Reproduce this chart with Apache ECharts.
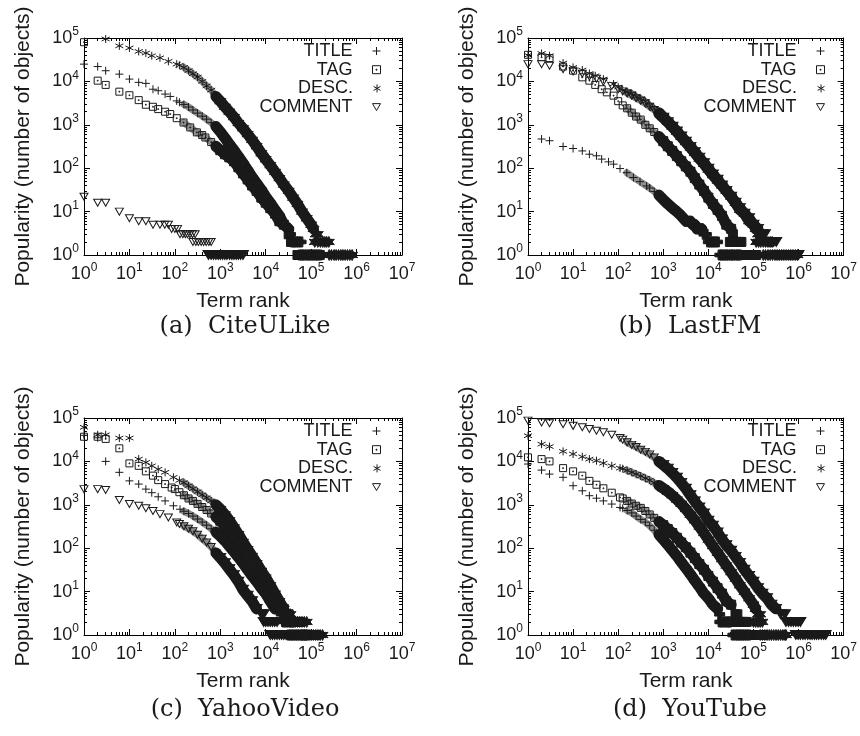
<!DOCTYPE html>
<html><head><meta charset="utf-8">
<script src="https://cdn.jsdelivr.net/npm/echarts@6/dist/echarts.min.js"></script>
<style>html,body{margin:0;padding:0;background:#fff}#c{width:860px;height:736px}</style>
</head><body><div id="c"></div>
<script>
// ---------- labels ----------
const seriesNames = ['TITLE', 'TAG', 'DESC.', 'COMMENT'];
const panelCaptions = ['(a)  CiteULike', '(b)  LastFM', '(c)  YahooVideo', '(d)  YouTube'];
const xTickExponents = ['0', '1', '2', '3', '4', '5', '6', '7'];
const yTickExponents = ['0', '1', '2', '3', '4', '5'];
const xAxisTitle = 'Term rank';
const yAxisTitle = 'Popularity (number of objects)';

// ---------- data: [term rank, popularity] ----------
// (a) CiteULike
const citeTitle = [[1,25000],[2,22000],[3,17600],[6,14700],[10,11300],[16,9500],[23,9000],[33,6600],[43,6100],[61,5100],[79,4500],[110,3560],[126,3300],[158,2950],[200,2570],[250,2190],[316,1860],[400,1580],[500,1350],[630,1120],[800,910],[1000,690],[1260,500],[1580,360],[2000,260],[2500,186],[3160,132],[4000,91],[5000,63],[6300,45],[8000,32],[10000,22],[12600,16],[16000,11],[20000,8],[25000,5],[32000,4],[35000,3],[38000,2],[42000,2],[47000,2],[53000,2],[60000,2],[56000,1],[63000,1],[70000,1],[80000,1],[90000,1],[100000,1],[112000,1],[126000,1],[140000,1],[160000,1]];
const citeTag = [[1,80000],[2,10400],[3,8300],[6,5800],[10,4800],[16,3700],[23,2900],[33,2600],[43,2300],[61,2000],[79,1770],[110,1420],[155,1130],[218,870],[305,670],[400,580],[470,510],[630,400],[800,320],[1000,260],[1260,210],[1580,178],[2000,145],[2500,105],[3160,76],[4000,55],[5000,40],[6300,30],[8000,21],[10000,16],[12600,12],[16000,9],[20000,6],[25000,5],[32000,3],[36000,2],[40000,2],[45000,2],[50000,1],[56000,1],[63000,1],[70000,1],[80000,1],[90000,1],[100000,1],[112000,1],[126000,1],[140000,1],[155000,1]];
const citeDesc = [[3,95000],[6,66000],[10,59000],[16,49000],[23,45000],[31,39000],[47,35000],[72,29000],[110,25000],[126,23500],[158,21000],[200,17800],[250,15000],[316,12600],[400,10000],[500,7900],[630,6300],[800,4500],[1000,3500],[1260,2600],[1580,2000],[2000,1500],[2500,1100],[3160,830],[4000,610],[5000,450],[6300,320],[8000,220],[10000,160],[12600,117],[16000,82],[20000,59],[25000,42],[32000,30],[40000,21],[50000,15],[63000,10],[80000,7],[100000,5],[113000,4],[126000,3],[140000,3],[120000,2],[140000,2],[160000,2],[180000,2],[200000,2],[220000,2],[245000,2],[250000,1],[280000,1],[320000,1],[355000,1],[400000,1],[450000,1],[500000,1],[560000,1],[630000,1],[710000,1],[800000,1]];
const citeComment = [[1,22],[2,16],[3,16],[6,10],[10,7],[16,6],[23,6],[33,5],[47,5],[60,5],[72,5],[85,4],[100,4],[115,4],[130,3],[150,3],[170,3],[190,3],[215,3],[245,3],[280,3],[250,2],[290,2],[330,2],[380,2],[430,2],[490,2],[560,2],[630,2],[550,1],[630,1],[710,1],[800,1],[900,1],[1000,1],[1120,1],[1260,1],[1400,1],[1600,1],[1800,1],[2000,1],[2240,1],[2500,1],[2800,1],[3160,1]];

// (b) LastFM
const lastTitle = [[2,470],[3,430],[6,316],[10,284],[16,250],[23,210],[33,193],[43,162],[61,140],[79,124],[110,98],[155,79],[218,61],[305,49],[427,39],[500,35],[630,29],[800,24],[1000,19],[1260,15],[1600,12],[2000,10],[2500,8],[3200,6],[4000,6],[4500,5],[5000,5],[5600,4],[6300,4],[7100,4],[8000,3],[9000,3],[10000,2],[11200,2],[12600,2],[14000,2],[16000,2],[18000,1],[20000,1],[22400,1],[25000,1],[28000,1],[32000,1],[35000,1],[40000,1],[45000,1],[50000,1]];
const lastTag = [[1,41000],[2,36000],[3,34500],[6,22000],[10,17700],[16,12400],[23,10400],[31,8300],[43,6600],[56,5600],[79,4700],[100,3500],[126,2800],[158,2400],[200,1900],[250,1550],[316,1320],[400,1000],[500,830],[630,680],[800,540],[1000,420],[1260,320],[1580,250],[2000,190],[2500,145],[3160,110],[4000,83],[5000,59],[6300,42],[8000,30],[10000,21],[12600,15],[16000,11],[20000,8],[25000,5],[32000,4],[35000,3],[30000,2],[34000,2],[38000,2],[43000,2],[48000,2],[54000,2],[35000,1],[40000,1],[45000,1],[50000,1],[56000,1],[63000,1],[71000,1],[80000,1],[90000,1],[100000,1],[115000,1]];
const lastDesc = [[1,40000],[2,44000],[3,39000],[6,26500],[10,21000],[16,18300],[23,15200],[31,13500],[47,11300],[79,8700],[100,7400],[126,6300],[158,5750],[200,5250],[250,4450],[316,4000],[400,3450],[500,2800],[630,2350],[800,1900],[1000,1500],[1260,1170],[1580,910],[2000,690],[2500,525],[3160,400],[4000,300],[5000,225],[6300,166],[8000,126],[10000,93],[12600,69],[16000,52],[20000,40],[25000,30],[32000,22],[40000,16],[50000,11],[63000,9],[80000,6],[100000,5],[112000,4],[126000,3],[141000,3],[115000,2],[130000,2],[145000,2],[165000,2],[185000,2],[210000,2],[235000,2],[260000,2],[165000,1],[185000,1],[210000,1],[235000,1],[265000,1],[300000,1],[335000,1],[375000,1],[420000,1],[470000,1],[530000,1],[600000,1],[670000,1],[750000,1],[850000,1],[950000,1]];
const lastComment = [[1,25000],[2,25000],[3,23000],[6,19000],[10,17000],[16,15000],[23,13000],[33,11500],[47,9800],[72,7900],[100,6600],[126,5900],[158,5300],[200,4700],[250,4100],[316,3600],[400,3100],[500,2600],[630,2200],[800,1800],[1000,1450],[1260,1150],[1600,900],[2000,700],[2500,540],[3160,410],[4000,310],[5000,235],[6300,175],[8000,130],[10000,97],[12600,72],[16000,54],[20000,40],[25000,30],[32000,22],[40000,16],[50000,12],[63000,9],[80000,7],[100000,5],[126000,4],[158000,3],[180000,3],[200000,2],[225000,2],[250000,2],[280000,2],[320000,2],[320000,1],[360000,1],[400000,1],[450000,1],[500000,1],[560000,1],[630000,1],[710000,1],[800000,1],[900000,1],[1000000,1]];

// (c) YahooVideo
const yahooTitle = [[1,40000],[2,35000],[3,10000],[6,5600],[10,3560],[16,3000],[23,2300],[31,1900],[43,1530],[61,1230],[93,950],[130,790],[158,710],[200,630],[250,550],[316,470],[400,400],[500,340],[630,280],[800,235],[1000,190],[1260,148],[1580,112],[2000,83],[2500,62],[3160,45],[4000,32],[5000,23],[6300,17],[8000,12],[10000,9],[12600,6],[16000,4],[20000,4],[22000,3],[25000,2],[28000,2],[32000,2],[36000,2],[40000,2],[32000,1],[36000,1],[40000,1],[45000,1],[50000,1],[56000,1],[63000,1],[71000,1],[80000,1]];
const yahooTag = [[1,37000],[2,37000],[3,33000],[6,20000],[10,9000],[16,7900],[23,5900],[33,4700],[43,3700],[61,3000],[85,2500],[100,2300],[126,1950],[158,1660],[200,1400],[250,1230],[316,1050],[400,890],[500,760],[630,630],[800,525],[1000,430],[1260,330],[1580,245],[2000,175],[2500,123],[3160,89],[4000,63],[5000,44],[6300,30],[8000,21],[10000,14],[12600,10],[16000,7],[20000,5],[25000,4],[32000,3],[28000,2],[32000,2],[36000,2],[40000,2],[45000,2],[50000,2],[56000,2],[40000,1],[45000,1],[50000,1],[56000,1],[63000,1],[71000,1],[80000,1],[90000,1],[100000,1],[112000,1],[126000,1]];
const yahooDesc = [[1,61000],[2,41000],[3,41000],[6,34500],[10,34500],[16,11300],[23,9500],[31,7900],[43,6600],[61,5600],[93,4300],[126,3650],[158,3250],[200,2750],[250,2350],[316,2000],[400,1700],[500,1450],[630,1230],[800,1000],[1000,800],[1260,600],[1580,440],[2000,300],[2500,210],[3160,140],[4000,95],[5000,66],[6300,45],[8000,30],[10000,21],[12600,14],[16000,9],[20000,6],[25000,4],[32000,3],[35000,3],[35000,2],[40000,2],[45000,2],[50000,2],[56000,2],[63000,2],[71000,2],[80000,2],[63000,1],[71000,1],[80000,1],[90000,1],[100000,1],[112000,1],[126000,1],[141000,1],[158000,1],[178000,1]];
const yahooComment = [[1,2300],[2,2300],[3,2200],[6,1290],[10,1040],[16,950],[23,830],[33,720],[47,610],[72,510],[110,390],[126,360],[158,320],[200,280],[250,245],[316,205],[400,165],[500,135],[630,107],[800,78],[1000,60],[1260,45],[1580,33],[2000,24],[2500,17],[3160,11],[4000,8],[5000,6],[6300,4],[8000,3],[9000,3],[9000,2],[10000,2],[11200,2],[12600,2],[14100,2],[15800,2],[17800,2],[12600,1],[14100,1],[15800,1],[17800,1],[20000,1],[22400,1],[25000,1],[28000,1],[32000,1]];

// (d) YouTube
const ytTitle = [[1,8700],[2,6300],[3,5100],[6,4300],[10,2750],[16,2100],[23,1620],[33,1420],[47,1230],[72,1040],[110,870],[126,830],[158,740],[200,650],[250,550],[316,460],[400,400],[500,330],[630,260],[800,205],[1000,158],[1260,120],[1580,89],[2000,66],[2500,48],[3160,35],[4000,25],[5000,18],[6300,13],[8000,9],[10000,7],[12600,5],[16000,4],[17800,3],[18000,2],[20000,2],[22400,2],[25000,2],[28000,2],[30000,2],[35000,1],[40000,1],[45000,1],[50000,1],[56000,1],[63000,1],[71000,1],[80000,1]];
const ytTag = [[1,12400],[2,11300],[3,10000],[6,7000],[10,5900],[16,4700],[23,3560],[33,2900],[47,2400],[72,1900],[110,1480],[126,1400],[158,1230],[200,1070],[250,950],[316,850],[400,720],[500,600],[630,500],[800,410],[1000,340],[1260,275],[1580,224],[2000,174],[2500,135],[3160,105],[4000,79],[5000,59],[6300,43],[8000,32],[10000,23],[12600,17],[16000,12],[20000,9],[25000,6],[32000,5],[40000,3],[44000,3],[40000,2],[45000,2],[50000,2],[56000,2],[63000,2],[71000,2],[50000,1],[56000,1],[63000,1],[71000,1],[80000,1],[90000,1],[100000,1],[112000,1],[126000,1],[141000,1],[158000,1]];
const ytDesc = [[1,39000],[2,25000],[3,22000],[6,17000],[10,14800],[16,12800],[23,11300],[33,10400],[47,9100],[72,7900],[110,7000],[126,6800],[158,6200],[200,5600],[250,5100],[316,4600],[400,4100],[500,3700],[630,3200],[800,2800],[1000,2400],[1260,2000],[1580,1660],[2000,1320],[2500,1050],[3160,800],[4000,590],[5000,440],[6300,316],[8000,224],[10000,158],[12600,112],[16000,79],[20000,56],[25000,40],[32000,28],[40000,20],[50000,14],[63000,10],[80000,7],[100000,5],[112000,4],[126000,3],[141000,3],[100000,2],[112000,2],[126000,2],[141000,2],[158000,2],[141000,1],[158000,1],[178000,1],[200000,1],[224000,1],[250000,1],[280000,1],[316000,1],[355000,1],[400000,1],[450000,1],[500000,1],[525000,1]];
const ytComment = [[1,87000],[2,79000],[3,76000],[6,72000],[10,66000],[16,61000],[23,56000],[33,51000],[47,47000],[72,41000],[110,34500],[126,31600],[158,27500],[200,24000],[250,21400],[316,18600],[400,16600],[500,14500],[630,12300],[800,10000],[1000,8300],[1260,6800],[1580,5400],[2000,4200],[2500,3200],[3160,2350],[4000,1660],[5000,1200],[6300,870],[8000,630],[10000,430],[12600,330],[16000,230],[20000,160],[25000,117],[32000,87],[40000,63],[50000,46],[63000,32],[80000,23],[100000,17],[126000,12],[158000,9],[200000,7],[250000,5],[316000,4],[400000,3],[500000,3],[525000,2],[600000,2],[680000,2],[770000,2],[870000,2],[980000,2],[1100000,2],[870000,1],[980000,1],[1100000,1],[1250000,1],[1400000,1],[1600000,1],[1800000,1],[2000000,1],[2250000,1],[2500000,1],[2800000,1],[3200000,1],[3600000,1],[4000000,1]];

// ---------- layout / style ----------
const panelSeries = [
  [citeTitle, citeTag, citeDesc, citeComment],
  [lastTitle, lastTag, lastDesc, lastComment],
  [yahooTitle, yahooTag, yahooDesc, yahooComment],
  [ytTitle, ytTag, ytDesc, ytComment]
];
const boxes = [
  { left: 84, top: 38, capX: 245, capY: 327 },
  { left: 528, top: 38, capX: 690, capY: 327 },
  { left: 84, top: 418, capX: 245, capY: 710 },
  { left: 528, top: 418, capX: 690, capY: 710 }
];
const W = 318, H = 217;
const FONT = 'Liberation Sans';
const INK = '#1a1a1a';
const symbols = {
  'TITLE': 'path://M5,0L5,10M0,5L10,5',
  'TAG': 'path://M0,0L10,0L10,10L0,10ZM4.4,4.4L5.6,4.4L5.6,5.6L4.4,5.6Z',
  'DESC.': 'path://M5,0L5,10M0.67,2.5L9.33,7.5M0.67,7.5L9.33,2.5',
  'COMMENT': 'path://M0,0L10,0L5,8.66Z'
};
const denseSymbols = {
  'TITLE': 'path://M3.2,0L6.8,0L6.8,3.2L10,3.2L10,6.8L6.8,6.8L6.8,10L3.2,10L3.2,6.8L0,6.8L0,3.2L3.2,3.2Z',
  'TAG': 'rect',
  'DESC.': 'path://M5,0L6.4,3.2L9.33,2.5L7.6,5L9.33,7.5L6.4,6.8L5,10L3.6,6.8L0.67,7.5L2.4,5L0.67,2.5L3.6,3.2Z',
  'COMMENT': 'path://M0,0L10,0L5,8.66Z'
};
const symbolSizes = { 'TITLE': 8, 'TAG': 7, 'DESC.': 8, 'COMMENT': [8, 7] };
const denseSizes = { 'TITLE': 10, 'TAG': 9, 'DESC.': 11, 'COMMENT': [11, 9] };
const grayFrom = 150, denseFrom = 1000, bandMinPop = 4;

const richTick = {
  b: { fontSize: 18, fontFamily: FONT, color: INK, lineHeight: 24, verticalAlign: 'middle' },
  s: { fontSize: 12, fontFamily: FONT, color: INK, verticalAlign: 'top' }
};

// monotone head of a series (before the integer "stairs" restart)
function mainCurve(arr) {
  const out = [];
  for (let j = 0; j < arr.length; j++) {
    if (j > 0 && arr[j][0] <= arr[j - 1][0]) break;
    out.push(arr[j]);
  }
  return out;
}

const grids = [], xAxes = [], yAxes = [], series = [], legends = [], graphics = [];
boxes.forEach((b, i) => {
  grids.push({ left: b.left, top: b.top, width: W, height: H, containLabel: false });
  const lineStyle = { color: '#000', width: 1 };
  const tick = { show: true, inside: true, length: 6, lineStyle };
  const minor = { show: true, splitNumber: 9, length: 3, lineStyle: { color: '#000', width: 1 } };
  xAxes.push({
    type: 'log', logBase: 10, min: 1, max: 1e7, gridIndex: i, position: 'bottom',
    axisLine: { show: true, lineStyle }, axisTick: tick, minorTick: minor, splitLine: { show: false },
    axisLabel: { margin: 7, formatter: v => '{b|10}{s|' + xTickExponents[Math.round(Math.log10(v))] + '}', rich: richTick },
    name: xAxisTitle, nameLocation: 'middle', nameGap: 36,
    nameTextStyle: { fontFamily: FONT, fontSize: 21, color: INK }
  });
  xAxes.push({
    type: 'log', logBase: 10, min: 1, max: 1e7, gridIndex: i, position: 'top',
    axisLine: { show: true, lineStyle }, axisTick: tick, minorTick: minor, splitLine: { show: false },
    axisLabel: { show: false }
  });
  yAxes.push({
    type: 'log', logBase: 10, min: 1, max: 1e5, gridIndex: i, position: 'left',
    axisLine: { show: true, lineStyle }, axisTick: tick, minorTick: minor, splitLine: { show: false },
    axisLabel: { margin: 5, formatter: v => '{b|10}{s|' + yTickExponents[Math.round(Math.log10(v))] + '}', rich: richTick },
    name: yAxisTitle, nameLocation: 'middle', nameGap: 50, nameRotate: 90,
    nameTextStyle: { fontFamily: FONT, fontSize: 21, color: INK }
  });
  yAxes.push({
    type: 'log', logBase: 10, min: 1, max: 1e5, gridIndex: i, position: 'right',
    axisLine: { show: true, lineStyle }, axisTick: tick, minorTick: minor, splitLine: { show: false },
    axisLabel: { show: false }
  });
  seriesNames.forEach((nm, k) => {
    const raw = panelSeries[i][k];
    const head = mainCurve(raw).filter(([r, p]) => p >= bandMinPop);
    // piled-up region drawn as a band through the same read points
    const grayPart = head.filter(([r]) => r >= grayFrom && r <= denseFrom * 1.3);
    const blackPart = head.filter(([r]) => r >= denseFrom * 0.79);
    if (grayPart.length > 1) series.push({
      type: 'line', name: nm + '-overlap', xAxisIndex: 2 * i, yAxisIndex: 2 * i, data: grayPart,
      symbol: 'none', silent: true, lineStyle: { color: '#8c8c8c', width: 7, cap: 'round', join: 'round' },
      z: 1, clip: false, emphasis: { disabled: true }
    });
    if (blackPart.length > 1) series.push({
      type: 'line', name: nm + '-pile', xAxisIndex: 2 * i, yAxisIndex: 2 * i, data: blackPart,
      symbol: 'none', silent: true, lineStyle: { color: INK, width: 11, cap: 'round', join: 'round' },
      z: 1, clip: false, emphasis: { disabled: true }
    });
    const items = raw.map(([r, p]) => {
      const dense = r >= denseFrom || p === 1;
      return dense
        ? { value: [r, p], symbol: denseSymbols[nm], symbolSize: denseSizes[nm], itemStyle: { color: INK, borderColor: INK, borderWidth: 1 } }
        : { value: [r, p] };
    });
    series.push({
      type: 'scatter', name: nm, xAxisIndex: 2 * i, yAxisIndex: 2 * i,
      data: items, symbol: symbols[nm], symbolSize: symbolSizes[nm],
      itemStyle: { color: 'rgba(0,0,0,0)', borderColor: INK, borderWidth: 1, opacity: 1 },
      clip: false, silent: true, emphasis: { disabled: true }, z: 2 + (3 - k)
    });
    const iconRight = b.left + 297;
    legends.push({
      data: [nm], orient: 'vertical', align: 'right', selectedMode: false,
      right: 860 - iconRight, top: b.top + 13 + k * 18.7 - 9,
      itemWidth: 8, itemHeight: 8, itemGap: 0, padding: 0,
      itemStyle: { color: 'rgba(0,0,0,0)', borderColor: INK, borderWidth: 1 },
      textStyle: { fontFamily: FONT, fontSize: 18, lineHeight: 18, color: INK, padding: [0, 15, 0, 0] }
    });
  });
  graphics.push({
    type: 'text', x: b.capX, y: b.capY,
    style: { text: panelCaptions[i], font: '24px "DejaVu Serif"', fill: INK, align: 'center', verticalAlign: 'middle' }
  });
});

const chart = echarts.init(document.getElementById('c'), null, { renderer: 'canvas' });
chart.setOption({
  animation: false, backgroundColor: '#fff',
  grid: grids, xAxis: xAxes, yAxis: yAxes, series, legend: legends, graphic: graphics
});
</script></body></html>
